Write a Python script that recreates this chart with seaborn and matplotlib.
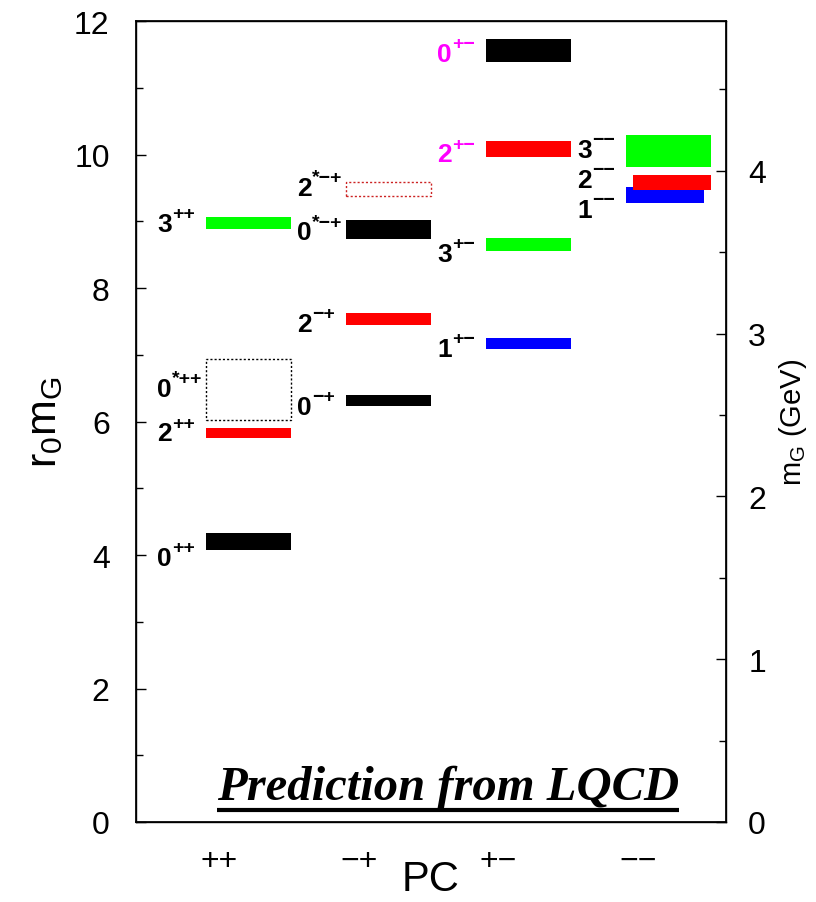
import matplotlib
matplotlib.use("Agg")

import matplotlib.pyplot as plt
import matplotlib.transforms as mtransforms
from matplotlib.ticker import MultipleLocator
import seaborn as sns

# PC classes along the x axis
pc_classes = ["++", "\u2212+", "+\u2212", "\u2212\u2212"]

# glueball states: J, PC superscript, column, band low/high in r0*mG
state_j = ["0", "2", "0", "3", "0", "2", "0", "2", "1", "3", "2", "0", "3", "1", "2"]
state_sup = ["++", "++", "*++", "++",
             "\u2212+", "\u2212+", "*\u2212+", "*\u2212+",
             "+\u2212", "+\u2212", "+\u2212", "+\u2212",
             "\u2212\u2212", "\u2212\u2212", "\u2212\u2212"]
state_pc = [0, 0, 0, 0, 1, 1, 1, 1, 2, 2, 2, 2, 3, 3, 3]
state_low = [4.08, 5.76, 6.03, 8.89, 6.23, 7.45, 8.73, 9.38,
             7.08, 8.55, 9.96, 11.38, 9.82, 9.28, 9.47]
state_high = [4.33, 5.90, 6.94, 9.07, 6.40, 7.63, 9.02, 9.59,
              7.25, 8.75, 10.21, 11.73, 10.30, 9.51, 9.70]
state_colors = ["black", "red", "black", "#00ff00", "black", "red", "black", "#cc2222",
                "blue", "#00ff00", "red", "black", "#00ff00", "blue", "red"]
state_dotted = [False, False, True, False, False, False, False, True,
                False, False, False, False, False, False, False]
label_colors = ["black"] * 10 + ["#ff00ff", "#ff00ff"] + ["black"] * 3
# where each label sits (digit centre), r0*mG
label_y = [3.99, 5.86, 6.53, 9.00, 6.26, 7.50, 8.87, 9.54,
           7.13, 8.55, 10.04, 11.54, 10.11, 9.21, 9.66]
# small horizontal nudges / widths for the crowded -- column
bar_shift = [0] * 13 + [-0.025, 0.025]
bar_width = [0.607] * 13 + [0.557, 0.557]

inv_r0_gev = 0.41  # 1/r0 in GeV

sns.set_theme(style="ticks")
plt.rcParams["font.family"] = ["Liberation Sans", "DejaVu Sans"]
plt.rcParams["mathtext.fontset"] = "custom"
plt.rcParams["mathtext.rm"] = "Liberation Sans"
plt.rcParams["mathtext.it"] = "Liberation Sans:italic"
for k in ["text.color", "axes.labelcolor", "xtick.color", "ytick.color", "axes.edgecolor"]:
    plt.rcParams[k] = "black"

fig = plt.figure(figsize=(8.16, 9.03), dpi=100)
ax = fig.add_axes([0.1667, 0.0886, 0.7230, 0.8870])

j_size = 19
sup_size = 14
tr_j = mtransforms.offset_copy(ax.transData, fig=fig, x=0, y=-6.8, units="points")
tr_sup = mtransforms.offset_copy(ax.transData, fig=fig, x=11.0, y=2.4, units="points")

for i in range(len(state_j)):
    xc = state_pc[i] + bar_shift[i]
    h = state_high[i] - state_low[i]
    if state_dotted[i]:
        ax.bar(xc, h, bottom=state_low[i], width=bar_width[i], fill=False,
               edgecolor=state_colors[i], linestyle=(0, (1.5, 1.5)), linewidth=1.0, zorder=3)
    else:
        ax.bar(xc, h, bottom=state_low[i], width=bar_width[i], color=state_colors[i],
               edgecolor="none", zorder=3)
    ax.text(state_pc[i] - 0.65, label_y[i], state_j[i], color=label_colors[i],
            fontsize=j_size, fontweight="bold", ha="left", va="baseline",
            transform=tr_j, zorder=4)
    ax.text(state_pc[i] - 0.65, label_y[i], state_sup[i], color=label_colors[i],
            fontsize=sup_size, fontweight="bold", ha="left", va="baseline",
            transform=tr_sup, zorder=4)

ax.set_xlim(-0.8, 3.414)
ax.set_ylim(0, 12)
ax.set_xticks([k - 0.21 for k in range(len(pc_classes))])
ax.set_xticklabels(pc_classes)
ax.tick_params(axis="x", length=0, labelsize=23, pad=17)
ax.yaxis.set_major_locator(MultipleLocator(2))
ax.yaxis.set_minor_locator(MultipleLocator(1))
ax.tick_params(axis="y", which="major", direction="in", length=7, width=1,
               labelsize=23, pad=19)
ax.tick_params(axis="y", which="minor", direction="in", length=5, width=1)

ax.set_xlabel("PC", fontsize=30)
ax.xaxis.set_label_coords(0.5, -0.071)
ax.xaxis.label.set_va("center")
ax.set_ylabel(r"$\mathregular{r_0m_G}$", fontsize=31)
ax.yaxis.set_label_coords(-0.154, 0.5)
ax.yaxis.label.set_va("center")

for sp in ax.spines.values():
    sp.set_linewidth(1.0)

ax2 = ax.twinx()
ax2.set_ylim(0, 12 * inv_r0_gev)
ax2.yaxis.set_major_locator(MultipleLocator(1))
ax2.yaxis.set_minor_locator(MultipleLocator(0.5))
ax2.tick_params(axis="y", which="major", direction="in", length=7, width=1,
                labelsize=23, pad=16)
ax2.tick_params(axis="y", which="minor", direction="in", length=5, width=1)
ax2.set_ylabel(r"$\mathregular{m_G}$ (GeV)", fontsize=21, rotation=90)
ax2.yaxis.set_label_coords(1.114, 0.5)
ax2.yaxis.label.set_va("center")
ax2.grid(False)
ax.grid(False)

# LQCD caption, underlined
cap = ax.text(0.529, 0.029, "Prediction from LQCD", transform=ax.transAxes,
              ha="center", va="baseline", fontsize=35, fontweight="bold",
              fontstyle="italic", family=["Liberation Serif", "DejaVu Serif"], zorder=5)
fig.canvas.draw()
bb = cap.get_window_extent().transformed(ax.transAxes.inverted())
ax.plot([bb.x0, bb.x1], [0.015, 0.015], transform=ax.transAxes, color="black",
        linewidth=3, solid_capstyle="butt", clip_on=False, zorder=5)

fig.savefig("out.png", dpi=100)
plt.close(fig)
